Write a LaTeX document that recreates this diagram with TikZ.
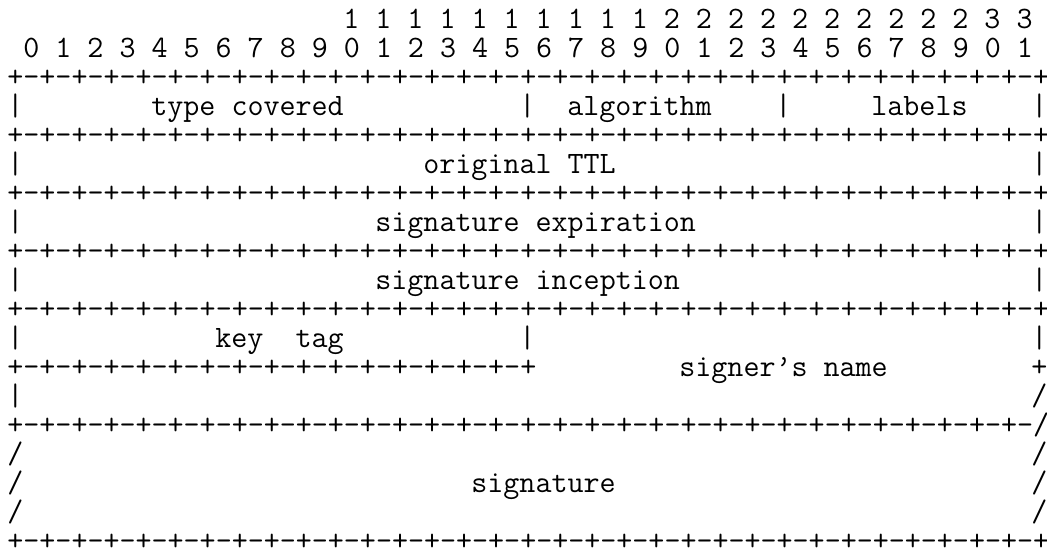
\documentclass[tikz,border=0pt]{standalone}
\usepackage{fontspec}
\usepackage{tikz}

% sixteen "+-" pairs, half a border row
\newcommand{\pluspairs}{+-+-+-+-+-+-+-+-+-+-+-+-+-+-+-+-}

\begin{document}
\begin{tikzpicture}[
        x=8pt, y=-14.5pt,
        txt/.style={anchor=base west, inner sep=0pt, font=\ttfamily\fontsize{15.56pt}{14.5pt}\selectfont}
    ]
    \useasboundingbox[fill=white] (-3.5pt,14.25pt) rectangle (520pt,-263.25pt);

    % bit numbers
    \node[txt] (tens) at (21,0) {1 1 1 1 1 1 1 1 1 1 2 2 2 2 2 2 2 2 2 2 3 3};
    \node[txt] (units) at (1,1) {0 1 2 3 4 5 6 7 8 9 0 1 2 3 4 5 6 7 8 9 0 1 2 3 4 5 6 7 8 9 0 1};

    % border rows
    \foreach \r in {2,4,6,8,10,18}
        \node[txt] (row\r) at (0,\r) {\pluspairs\pluspairs+};
    \node[txt] (row12) at (0,12) {\pluspairs+};
    \node[txt] (row14) at (0,14) {\pluspairs\pluspairs/};

    % field names
    \node[txt] (typecov) at (9,3) {type covered};
    \node[txt] (alg) at (35,3) {algorithm};
    \node[txt] (labels) at (54,3) {labels};
    \node[txt] (ttl) at (26,5) {original TTL};
    \node[txt] (sigexp) at (23,7) {signature expiration};
    \node[txt] (siginc) at (23,9) {signature inception};
    \node[txt] (keytag) at (13,11) {key\ \ tag};
    \node[txt] (signer) at (42,12) {signer’s name};
    \node[txt] (sig) at (29,16) {signature};

    % vertical bars and open edges
    \foreach \c/\r in {0/3,32/3,48/3,64/3,0/5,64/5,0/7,64/7,0/9,64/9,0/11,32/11,64/11,0/13}
        \node[txt] (bar\c-\r) at (\c,\r) {|};
    \foreach \c/\r in {64/13,0/15,64/15,0/16,64/16,0/17,64/17}
        \node[txt] (cut\c-\r) at (\c,\r) {/};
    \node[txt] (cross) at (64,12) {+};
\end{tikzpicture}
\end{document}
